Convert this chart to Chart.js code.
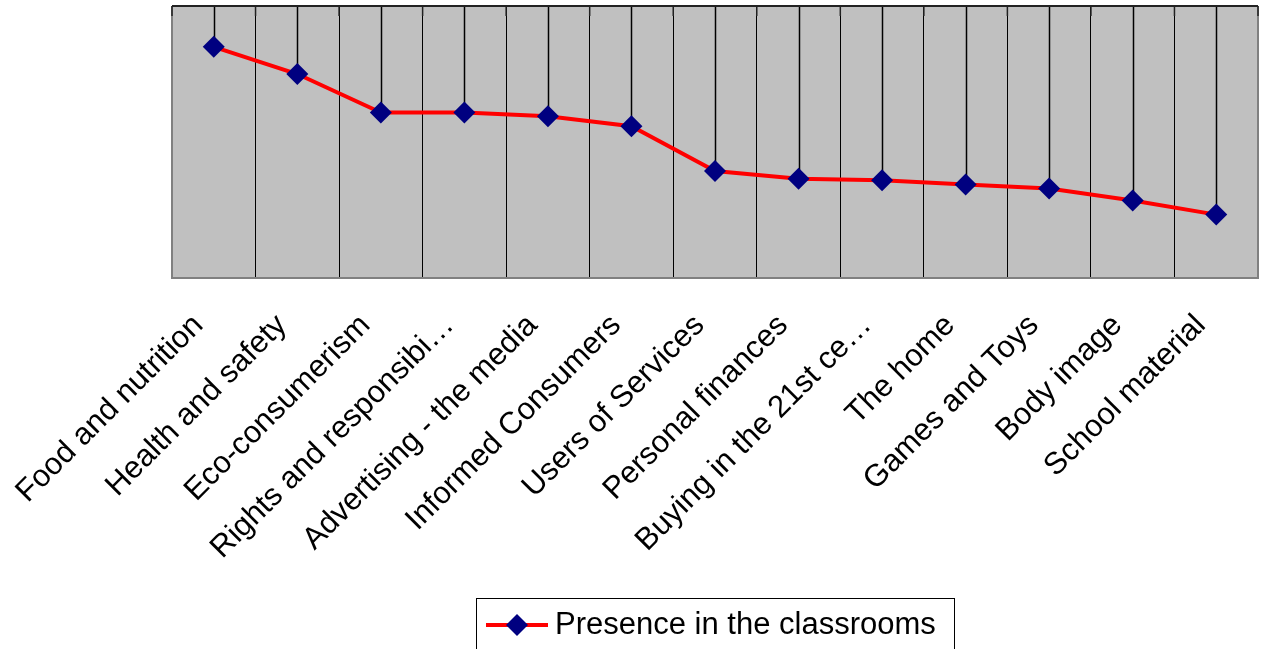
<!DOCTYPE html>
<html>
<head>
<meta charset="utf-8">
<script src="https://cdn.jsdelivr.net/npm/chart.js@4.4.1/dist/chart.umd.min.js"></script>
<style>
  html, body { margin: 0; padding: 0; background: #fff; }
  #wrap { width: 1261px; height: 649px; position: relative; }
</style>
</head>
<body>
<div id="wrap"><canvas id="presenceChart"></canvas></div>
<script>
const topics = [
  'Food and nutrition', 'Health and safety', 'Eco-consumerism',
  'Rights and responsibi…', 'Advertising - the media', 'Informed Consumers',
  'Users of Services', 'Personal finances', 'Buying in the 21st ce…',
  'The home', 'Games and Toys', 'Body image', 'School material'
];
const presence = [85.0, 75.0, 60.8, 60.8, 59.5, 55.8, 39.3, 36.5, 35.9, 34.4, 32.9, 28.5, 23.3];
const seriesName = 'Presence in the classrooms';

const FONT = '"Liberation Sans", Arial, sans-serif';

// grey plot background, borders, drop lines from the top edge to each point
const plotDecor = {
  id: 'plotDecor',
  beforeDatasetsDraw(chart) {
    const { ctx, chartArea: a } = chart;
    const meta = chart.getDatasetMeta(0);
    ctx.save();
    ctx.strokeStyle = '#000';
    ctx.lineWidth = 1.5;
    meta.data.forEach(pt => {
      ctx.beginPath();
      ctx.moveTo(Math.round(pt.x) + 0.5, a.top);
      ctx.lineTo(Math.round(pt.x) + 0.5, pt.y);
      ctx.stroke();
    });
    ctx.restore();
  },
  beforeDraw(chart) {
    const { ctx, chartArea: a } = chart;
    ctx.save();
    ctx.fillStyle = '#c0c0c0';
    ctx.fillRect(a.left, a.top, a.right - a.left, a.bottom - a.top);
    ctx.restore();
  },
  afterDraw(chart) {
    const { ctx, chartArea: a } = chart;
    ctx.save();
    ctx.lineWidth = 2;
    ctx.strokeStyle = '#808080';
    ctx.beginPath();
    ctx.moveTo(a.left, a.top);
    ctx.lineTo(a.left, a.bottom);
    ctx.lineTo(a.right, a.bottom);
    ctx.lineTo(a.right, a.top);
    ctx.stroke();
    ctx.strokeStyle = '#222';
    ctx.beginPath();
    ctx.moveTo(a.left, a.top);
    ctx.lineTo(a.right, a.top);
    ctx.stroke();
    // short tick marks along the top axis
    const step = (a.right - a.left) / topics.length;
    ctx.lineWidth = 1.5;
    for (let i = 0; i <= topics.length; i++) {
      const x = a.left + step * i;
      ctx.beginPath();
      ctx.moveTo(x, a.top);
      ctx.lineTo(x, a.top + 10);
      ctx.stroke();
    }

    // legend box
    const lx = 476, ly = 598;
    ctx.lineWidth = 1;
    ctx.strokeStyle = '#000';
    ctx.strokeRect(lx + 0.5, ly + 0.5, 478, 60);
    const cy = 625;
    ctx.strokeStyle = '#ff0000';
    ctx.lineWidth = 4;
    ctx.beginPath();
    ctx.moveTo(lx + 10, cy);
    ctx.lineTo(lx + 72, cy);
    ctx.stroke();
    ctx.fillStyle = '#000080';
    ctx.beginPath();
    ctx.moveTo(lx + 41, cy - 11);
    ctx.lineTo(lx + 52, cy);
    ctx.lineTo(lx + 41, cy + 11);
    ctx.lineTo(lx + 30, cy);
    ctx.closePath();
    ctx.fill();
    ctx.fillStyle = '#000';
    ctx.font = '31px ' + FONT;
    ctx.textBaseline = 'middle';
    ctx.textAlign = 'left';
    ctx.fillText(seriesName, lx + 79, cy);
    ctx.restore();
  }
};

new Chart(document.getElementById('presenceChart'), {
  type: 'line',
  data: {
    labels: topics,
    datasets: [{
      label: seriesName,
      data: presence,
      borderColor: '#ff0000',
      borderWidth: 4,
      pointStyle: 'rectRot',
      pointRadius: 11,
      pointBackgroundColor: '#000080',
      pointBorderColor: '#000080',
      pointBorderWidth: 0,
      tension: 0
    }]
  },
  options: {
    responsive: true,
    maintainAspectRatio: false,
    animation: false,
    layout: {
      autoPadding: false,
      padding: { left: 172, right: 3, top: 6, bottom: 71 }
    },
    plugins: {
      legend: { display: false },
      tooltip: { enabled: false }
    },
    scales: {
      x: {
        offset: true,
        grid: { offset: true, color: '#000', lineWidth: 1, drawTicks: false },
        border: { display: false },
        ticks: {
          autoSkip: false,
          maxRotation: 45,
          minRotation: 45,
          color: '#000',
          padding: 14,
          font: { family: FONT, size: 31 },
          // trailing gap pulls each label a little down-left of its tick
          callback(value) { return this.getLabelForValue(value) + '\u2002\u2009'; }
        },
        afterFit(scale) { scale.height = 300; }
      },
      y: {
        display: false,
        min: 0,
        max: 100
      }
    }
  },
  plugins: [plotDecor]
});
</script>
</body>
</html>
